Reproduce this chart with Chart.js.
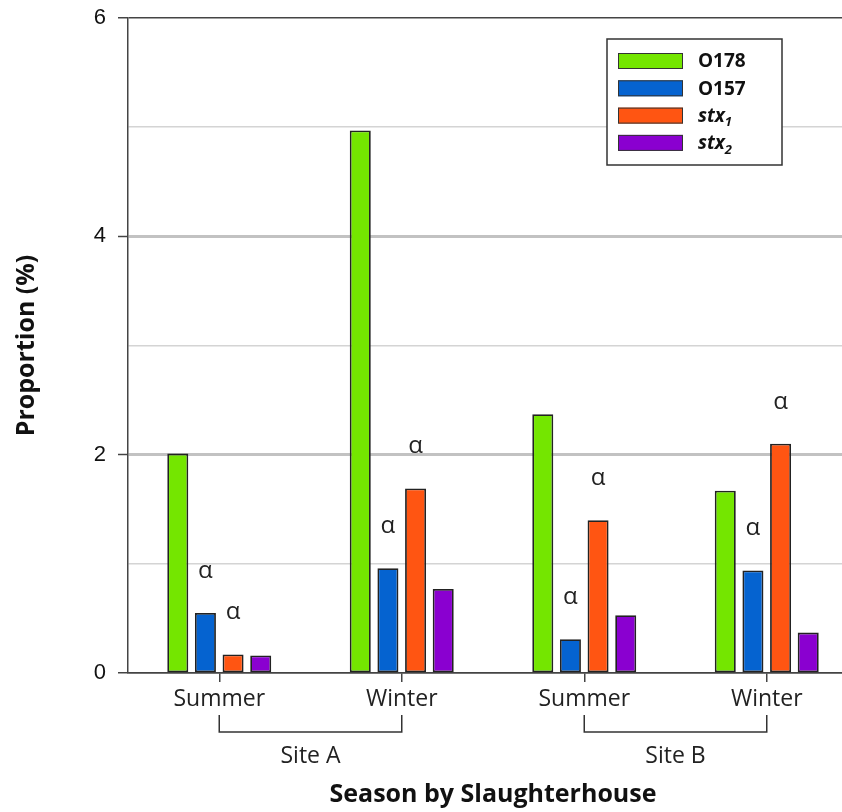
<!DOCTYPE html>
<html>
<head>
<meta charset="utf-8">
<script src="https://cdn.jsdelivr.net/npm/chart.js@4.4.1/dist/chart.umd.min.js"></script>
<style>
  html, body { margin: 0; padding: 0; background: #fff; overflow: hidden; }
  canvas { display: block; }
</style>
</head>
<body>
<canvas id="chart" width="860" height="812"></canvas>
<script>
const seasons = ['Summer', 'Winter', 'Summer', 'Winter'];
const sites = ['Site A', 'Site B'];
const siteSpans = [[0, 1], [2, 3]];
const seriesNames = ['O178', 'O157', 'stx₁', 'stx₂'];
const o178 = [2.01, 4.97, 2.37, 1.67];
const o157 = [0.55, 0.96, 0.31, 0.94];
const stx1 = [0.17, 1.69, 1.40, 2.10];
const stx2 = [0.16, 0.77, 0.53, 0.37];
const yLabels = [0, 2, 4, 6];
// bars flagged with the α symbol
const alphaO157 = [true, true, true, true];
const alphaStx1 = [true, true, true, true];

const colors = ['#74e600', '#0563d0', '#ff5512', '#8a00d0'];
const FONT = '"Open Sans", "Noto Sans", sans-serif';

const extras = {
  id: 'extras',
  afterDatasetsDraw(chart) {
    const { ctx } = chart;
    ctx.save();
    ctx.font = '24px ' + FONT;
    ctx.fillStyle = '#222';
    ctx.textAlign = 'center';
    ctx.textBaseline = 'middle';
    [[1, alphaO157], [2, alphaStx1]].forEach(([di, flags]) => {
      chart.getDatasetMeta(di).data.forEach((bar, i) => {
        if (flags[i]) ctx.fillText('α', bar.x, bar.y - 42);
      });
    });
    ctx.restore();
  },
  afterDraw(chart) {
    const { ctx, chartArea, scales: { x } } = chart;
    ctx.save();
    // site brackets
    const b = chartArea.bottom;
    ctx.strokeStyle = '#333';
    ctx.lineWidth = 1.5;
    ctx.font = '23px ' + FONT;
    ctx.fillStyle = '#222';
    ctx.textAlign = 'center';
    ctx.textBaseline = 'middle';
    sites.forEach((s, i) => {
      const x0 = x.getPixelForValue(siteSpans[i][0]);
      const x1 = x.getPixelForValue(siteSpans[i][1]);
      ctx.beginPath();
      ctx.moveTo(x0, b + 42);
      ctx.lineTo(x0, b + 59);
      ctx.lineTo(x1, b + 59);
      ctx.lineTo(x1, b + 42);
      ctx.stroke();
      ctx.fillText(s, (x0 + x1) / 2, b + 83);
    });

    // legend
    const lx = 607, ly = 39, lw = 175, lh = 126;
    ctx.fillStyle = '#fff';
    ctx.fillRect(lx, ly, lw, lh);
    ctx.strokeStyle = '#333';
    ctx.lineWidth = 1.5;
    ctx.strokeRect(lx, ly, lw, lh);
    ctx.textAlign = 'left';
    chart.data.datasets.forEach((ds, i) => {
      const cy = 61 + i * 27.3;
      ctx.fillStyle = ds.backgroundColor;
      ctx.fillRect(618, cy - 8, 65, 16);
      ctx.lineWidth = 1;
      ctx.strokeStyle = '#333';
      ctx.strokeRect(618.5, cy - 7.5, 64, 15);
      ctx.fillStyle = '#111';
      const m = ds.label.match(/^(.*?)([\u2080-\u2089])$/);
      if (m) {
        ctx.font = 'italic bold 19px ' + FONT;
        ctx.fillText(m[1], 698, cy + 1);
        const w = ctx.measureText(m[1]).width;
        ctx.font = 'italic bold 13px ' + FONT;
        ctx.fillText(String(m[2].charCodeAt(0) - 0x2080), 698 + w, cy + 7);
      } else {
        ctx.font = 'bold 19px ' + FONT;
        ctx.fillText(ds.label, 698, cy + 1);
      }
    });
    ctx.restore();
  }
};

const series = [o178, o157, stx1, stx2];

new Chart(document.getElementById('chart'), {
  type: 'bar',
  data: {
    labels: seasons,
    datasets: series.map((d, i) => ({
      label: seriesNames[i],
      data: d,
      backgroundColor: colors[i],
      borderColor: '#222',
      borderWidth: 1.8,
      borderSkipped: false,
      categoryPercentage: 0.606,
      barPercentage: 0.76
    }))
  },
  options: {
    responsive: false,
    animation: false,
    devicePixelRatio: 1,
    layout: { padding: { top: 18, right: 2, left: 0, bottom: 0 } },
    plugins: { legend: { display: false }, tooltip: { enabled: false } },
    scales: {
      x: {
        afterFit: (s) => { s.height = 139; },
        border: { color: '#444', width: 1.5 },
        grid: { display: true, drawOnChartArea: false, offset: false, tickLength: 9, color: '#444', lineWidth: 1.5 },
        ticks: { color: '#222', font: { family: FONT, size: 23 }, padding: 4 },
        title: { display: true, text: 'Season by Slaughterhouse', color: '#111',
                 font: { family: FONT, size: 25, weight: 'bold' }, padding: { top: 0, bottom: 2 } }
      },
      y: {
        min: 0,
        max: 6,
        afterFit: (s) => { s.width = 128; s.paddingTop = 0; s.paddingBottom = 0; },
        border: { color: '#444', width: 1.5 },
        ticks: {
          stepSize: 1,
          padding: 12,
          color: '#111',
          font: { family: '"Liberation Sans", Arial, sans-serif', size: 22 },
          callback: (v) => yLabels.includes(v) ? String(v) : ''
        },
        grid: {
          tickLength: 10,
          color: (c) => c.tick.value === 6 || c.tick.value === 0 ? '#444' : (c.tick.value % 2 === 0 ? '#c2c2c2' : '#d4d4d4'),
          lineWidth: (c) => c.tick.value === 2 || c.tick.value === 4 ? 3 : 1.5,
          tickColor: (c) => c.tick.value % 2 === 0 ? '#444' : 'rgba(0,0,0,0)',
          tickWidth: 1.5
        },
        title: { display: true, text: 'Proportion (%)', color: '#111',
                 font: { family: FONT, size: 25, weight: 'bold' }, padding: { top: 12, bottom: 0 } }
      }
    }
  },
  plugins: [extras]
});
</script>
</body>
</html>
